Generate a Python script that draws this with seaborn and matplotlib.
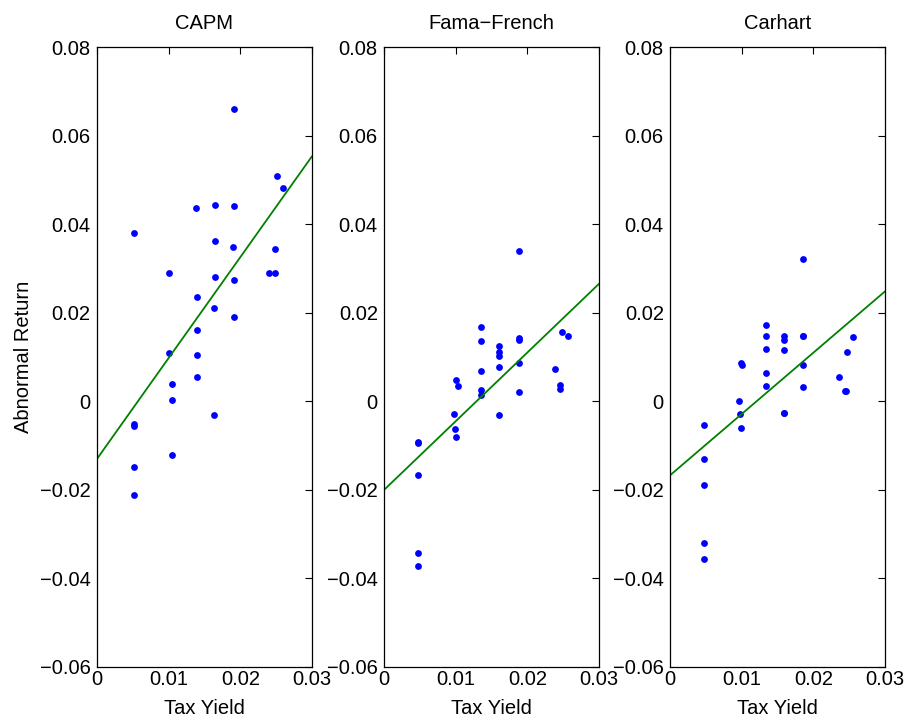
import matplotlib
matplotlib.use("Agg")
import matplotlib.pyplot as plt
import seaborn as sns

# datos
titulos = ["CAPM", "Fama\u2212French", "Carhart"]

x_capm = [0.0191, 0.0251, 0.0260, 0.0138, 0.0164, 0.0191, 0.0051, 0.0164, 0.0190, 0.0249,
          0.0100, 0.0164, 0.0240, 0.0248, 0.0191, 0.0139, 0.0163, 0.0191, 0.0139, 0.0101,
          0.0139, 0.0139, 0.0104, 0.0104, 0.0163, 0.0051, 0.0051, 0.0105, 0.0051, 0.0051]
y_capm = [0.0661, 0.0508, 0.0481, 0.0436, 0.0444, 0.0441, 0.0379, 0.0361, 0.0349, 0.0345,
          0.0289, 0.0280, 0.0289, 0.0289, 0.0273, 0.0236, 0.0210, 0.0190, 0.0160, 0.0108,
          0.0105, 0.0054, 0.0039, 0.0003, -0.0032, -0.0052, -0.0055, -0.0121, -0.0148, -0.0211]

x_ff = [0.0188, 0.0248, 0.0257, 0.0135, 0.0135, 0.0188, 0.0188, 0.0160, 0.0160, 0.0160,
        0.0160, 0.0188, 0.0135, 0.0238, 0.0101, 0.0103, 0.0245, 0.0246, 0.0135, 0.0135,
        0.0188, 0.0098, 0.0160, 0.0099, 0.0101, 0.0048, 0.0048, 0.0048, 0.0048, 0.0048]
y_ff = [0.0340, 0.0156, 0.0147, 0.0168, 0.0136, 0.0144, 0.0139, 0.0124, 0.0111, 0.0102,
        0.0078, 0.0087, 0.0068, 0.0073, 0.0047, 0.0035, 0.0037, 0.0028, 0.0025, 0.0014,
        0.0022, -0.0029, -0.0032, -0.0063, -0.0081, -0.0093, -0.0094, -0.0167, -0.0343, -0.0373]

x_car = [0.0186, 0.0134, 0.0134, 0.0159, 0.0159, 0.0186, 0.0255, 0.0134, 0.0159, 0.0247,
         0.0099, 0.0101, 0.0186, 0.0134, 0.0236, 0.0134, 0.0186, 0.0244, 0.0096, 0.0097,
         0.0159, 0.0099, 0.0047, 0.0047, 0.0047, 0.0047, 0.0047, 0.0159, 0.0186, 0.0245]
y_car = [0.0322, 0.0173, 0.0148, 0.0148, 0.0138, 0.0148, 0.0145, 0.0118, 0.0116, 0.0111,
         0.0087, 0.0083, 0.0081, 0.0063, 0.0055, 0.0035, 0.0032, 0.0023, 0.0001, -0.0029,
         -0.0026, -0.0061, -0.0054, -0.0131, -0.0190, -0.0321, -0.0355, -0.0026, 0.0147, 0.0024]

xs = [x_capm, x_ff, x_car]
ys = [y_capm, y_ff, y_car]

xticks = [0, 0.01, 0.02, 0.03]
yticks = [-0.06, -0.04, -0.02, 0, 0.02, 0.04, 0.06, 0.08]

sns.set_style("white")
plt.rcParams["font.family"] = ["Liberation Sans", "DejaVu Sans"]
plt.rcParams["font.size"] = 14.5
plt.rcParams["axes.unicode_minus"] = True
plt.rcParams["text.color"] = "black"
plt.rcParams["axes.labelcolor"] = "black"

fig = plt.figure(figsize=(9.07, 7.21), dpi=100)
lefts = [97 / 907, 384 / 907, 670 / 907]

for i in range(3):
    ax = fig.add_axes([lefts[i], 54 / 721, 215 / 907, 620 / 721])
    ax.set_xlim(0, 0.03)
    ax.set_ylim(-0.06, 0.08)
    sns.regplot(x=xs[i], y=ys[i], ax=ax, ci=None, truncate=False,
                scatter_kws={"s": 24, "color": "#0000ff", "linewidths": 0, "alpha": 1},
                line_kws={"color": "#008000", "lw": 1.3})
    ax.set_xlim(0, 0.03)
    ax.set_ylim(-0.06, 0.08)
    ax.set_xticks(xticks)
    ax.set_yticks(yticks)
    ax.set_xticklabels(["0", "0.01", "0.02", "0.03"])
    ax.set_yticklabels([("\u2212" if v < 0 else "") + ("0" if v == 0 else "%.2f" % abs(v)) for v in yticks])
    ax.tick_params(direction="in", length=5, width=0.8, top=True, right=True,
                   labelsize=14.5, colors="black")
    ax.tick_params(axis="x", pad=2)
    ax.tick_params(axis="y", pad=4.5)
    for s in ax.spines.values():
        s.set_color("black")
        s.set_linewidth(0.9)
    ax.set_title(titulos[i], fontsize=14.5, pad=13, color="black")
    ax.set_xlabel("Tax Yield", fontsize=14.5, labelpad=7, color="black")
    if i == 0:
        ax.set_ylabel("Abnormal Return", fontsize=14.5, labelpad=5, color="black")
    else:
        ax.set_ylabel("")

fig.savefig("out.png", dpi=100)
